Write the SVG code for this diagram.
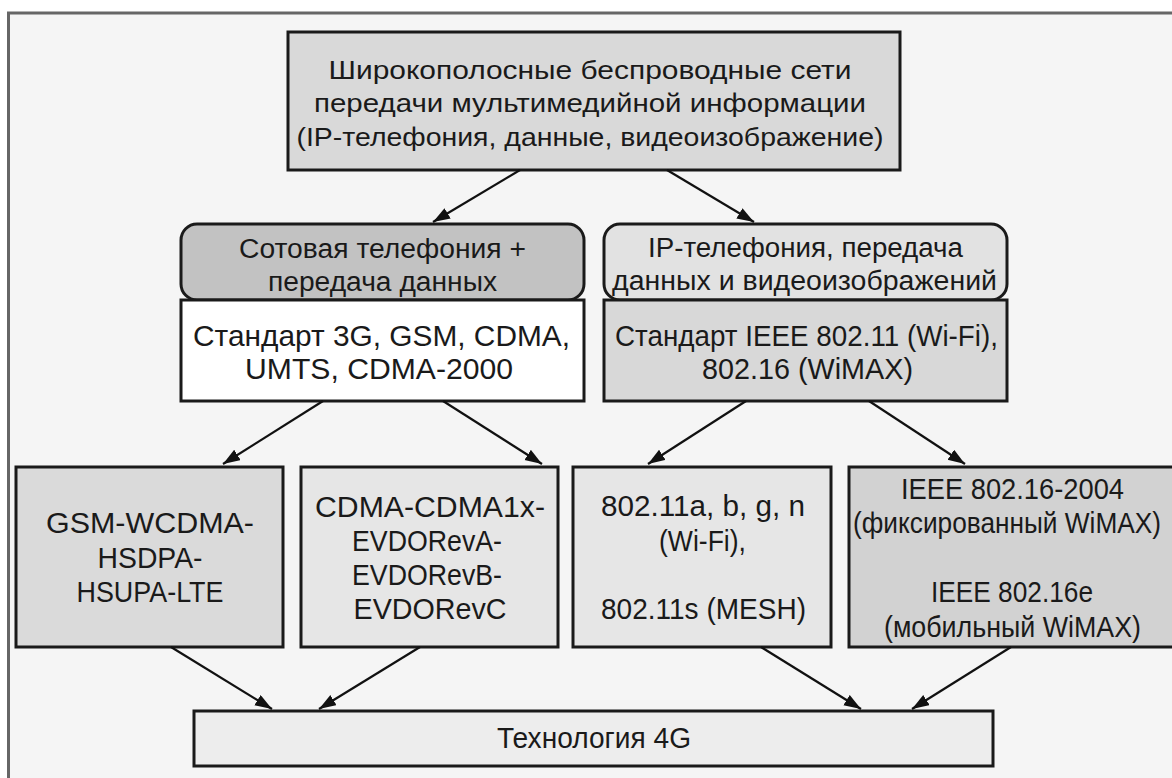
<svg xmlns="http://www.w3.org/2000/svg" width="1172" height="778" viewBox="0 0 1172 778">
<defs>
<marker id="ah" markerUnits="userSpaceOnUse" markerWidth="18" markerHeight="14" refX="17" refY="6" orient="auto">
<path d="M0,0 L17,6 L0,12 z" fill="#111"/>
</marker>
<style>
.box{stroke:#1a1a1a;stroke-width:3}
.t{font-family:"Liberation Sans",Arial,sans-serif;fill:#1a1a1a;text-anchor:middle}
.s25{font-size:25px}
.s27{font-size:27px}
.s29{font-size:29px}
.conn line{stroke:#111;stroke-width:2.2;marker-end:url(#ah)}
</style>
</defs>
<rect x="0" y="0" width="1172" height="778" fill="#ffffff"/>
<rect id="frame" x="8.5" y="13" width="1200" height="800" fill="#f5f5f5" stroke="#666" stroke-width="3"/>

<g id="n-top">
<rect class="box" x="288" y="32" width="612" height="138" fill="#d9d9d9"/>
<text class="t s25" x="590" y="79" textLength="523" lengthAdjust="spacingAndGlyphs">Широкополосные беспроводные сети</text>
<text class="t s25" x="590" y="112" textLength="552" lengthAdjust="spacingAndGlyphs">передачи мультимедийной информации</text>
<text class="t s25" x="590" y="146" textLength="587" lengthAdjust="spacingAndGlyphs">(IP-телефония, данные, видеоизображение)</text>
</g>

<g id="n-cell">
<rect class="box" x="181" y="224" width="403" height="76" rx="16" fill="#c2c2c2"/>
<text class="t s27" x="382.5" y="258" textLength="287" lengthAdjust="spacingAndGlyphs">Сотовая телефония +</text>
<text class="t s27" x="382.5" y="291" textLength="229" lengthAdjust="spacingAndGlyphs">передача данных</text>
</g>

<g id="n-ip">
<rect class="box" x="604" y="224" width="403" height="76" rx="16" fill="#e2e2e2"/>
<text class="t s27" x="805.5" y="257" textLength="315" lengthAdjust="spacingAndGlyphs">IP-телефония, передача</text>
<text class="t s27" x="804.5" y="290" textLength="385" lengthAdjust="spacingAndGlyphs">данных и видеоизображений</text>
</g>

<g id="n-3g">
<rect class="box" x="181" y="300" width="403" height="101" fill="#ffffff"/>
<text class="t s29" x="381.5" y="346" textLength="377" lengthAdjust="spacingAndGlyphs">Стандарт 3G, GSM, CDMA,</text>
<text class="t s29" x="379" y="379" textLength="268" lengthAdjust="spacingAndGlyphs">UMTS, CDMA-2000</text>
</g>

<g id="n-ieee">
<rect class="box" x="604" y="300" width="403" height="101" fill="#d8d8d8"/>
<text class="t s29" x="806.5" y="346" textLength="383" lengthAdjust="spacingAndGlyphs">Стандарт IEEE 802.11 (Wi-Fi),</text>
<text class="t s29" x="807.5" y="379" textLength="211" lengthAdjust="spacingAndGlyphs">802.16 (WiMAX)</text>
</g>

<g id="n-gsm">
<rect class="box" x="16" y="467" width="267" height="180" fill="#dadada"/>
<text class="t s29" x="150" y="533" textLength="208" lengthAdjust="spacingAndGlyphs">GSM-WCDMA-</text>
<text class="t s29" x="150" y="568" textLength="105" lengthAdjust="spacingAndGlyphs">HSDPA-</text>
<text class="t s29" x="150" y="602" textLength="147" lengthAdjust="spacingAndGlyphs">HSUPA-LTE</text>
</g>

<g id="n-cdma">
<rect class="box" x="301" y="467" width="257" height="180" fill="#e6e6e6"/>
<text class="t s29" x="430" y="517" textLength="230" lengthAdjust="spacingAndGlyphs">CDMA-CDMA1x-</text>
<text class="t s29" x="427" y="551" textLength="150" lengthAdjust="spacingAndGlyphs">EVDORevA-</text>
<text class="t s29" x="427" y="585" textLength="150" lengthAdjust="spacingAndGlyphs">EVDORevB-</text>
<text class="t s29" x="430" y="619" textLength="153" lengthAdjust="spacingAndGlyphs">EVDORevC</text>
</g>

<g id="n-wifi">
<rect class="box" x="573" y="467" width="258" height="180" fill="#e6e6e6"/>
<text class="t s29" x="703" y="516" textLength="204" lengthAdjust="spacingAndGlyphs">802.11a, b, g, n</text>
<text class="t s29" x="702.5" y="551" textLength="87" lengthAdjust="spacingAndGlyphs">(Wi-Fi),</text>
<text class="t s29" x="703.5" y="619" textLength="205" lengthAdjust="spacingAndGlyphs">802.11s (MESH)</text>
</g>

<g id="n-wimax">
<rect class="box" x="849" y="467" width="340" height="180" fill="#d2d2d2"/>
<text class="t s29" x="1012.5" y="499" textLength="223" lengthAdjust="spacingAndGlyphs">IEEE 802.16-2004</text>
<text class="t s29" x="1007" y="533" textLength="308" lengthAdjust="spacingAndGlyphs">(фиксированный WiMAX)</text>
<text class="t s29" x="1012" y="602" textLength="162" lengthAdjust="spacingAndGlyphs">IEEE 802.16e</text>
<text class="t s29" x="1012.5" y="637" textLength="257" lengthAdjust="spacingAndGlyphs">(мобильный WiMAX)</text>
</g>

<g id="n-4g">
<rect class="box" x="194" y="711" width="799" height="55" fill="#ededed"/>
<text class="t s29" x="594" y="748" textLength="194" lengthAdjust="spacingAndGlyphs">Технология 4G</text>
</g>

<g id="connectors" class="conn">
<line x1="520" y1="170" x2="433" y2="222"/>
<line x1="667" y1="170" x2="754" y2="222"/>
<line x1="323" y1="401" x2="223" y2="464"/>
<line x1="443" y1="401" x2="542" y2="464"/>
<line x1="746" y1="401" x2="648" y2="464"/>
<line x1="869" y1="401" x2="965" y2="464"/>
<line x1="171" y1="647" x2="272" y2="709"/>
<line x1="420" y1="647" x2="319" y2="709"/>
<line x1="761" y1="647" x2="861" y2="709"/>
<line x1="1011" y1="647" x2="912" y2="709"/>
</g>
</svg>
